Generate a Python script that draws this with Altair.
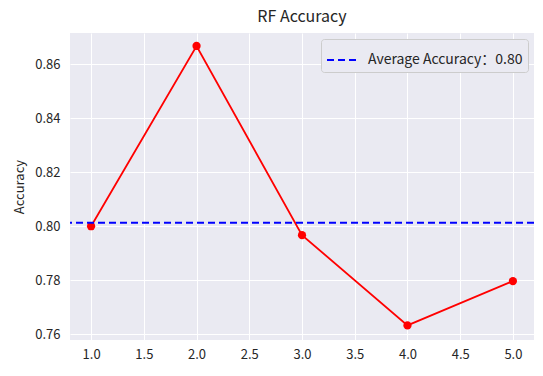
import altair as alt
import pandas as pd

folds = [1, 2, 3, 4, 5]
accuracy = [0.8000, 0.8667, 0.7967, 0.7633, 0.7797]
avg_value = sum(accuracy) / len(accuracy)
avg_label = ["Average Accuracy：0.80"]
x_ticks = [1.0, 1.5, 2.0, 2.5, 3.0, 3.5, 4.0, 4.5, 5.0]
y_ticks = [0.76, 0.78, 0.80, 0.82, 0.84, 0.86]

df = pd.DataFrame({"fold": folds, "acc": accuracy})
avg_df = pd.DataFrame({"label": avg_label, "avg": [avg_value]})

FONT = "Noto Sans CJK SC"

x_enc = alt.X("fold:Q", scale=alt.Scale(domain=[0.8, 5.2], nice=False, zero=False),
              axis=alt.Axis(values=x_ticks, format=".1f", title=None))
y_enc = alt.Y("acc:Q", scale=alt.Scale(domain=[0.7579, 0.8715], nice=False, zero=False),
              axis=alt.Axis(values=y_ticks, format=".2f", title="Accuracy"))

line = alt.Chart(df).mark_line(color="red", strokeWidth=1.8, clip=True).encode(x=x_enc, y=y_enc)
pts = alt.Chart(df).mark_circle(color="red", size=68, opacity=1).encode(x="fold:Q", y="acc:Q")

rule = alt.Chart(avg_df).mark_rule(strokeDash=[7, 4], strokeWidth=2).encode(
    y=alt.Y("avg:Q"),
    color=alt.Color("label:N", scale=alt.Scale(range=["blue"]),
                    legend=alt.Legend(title=None, orient="top-right", offset=6,
                                      symbolType="stroke", symbolSize=900,
                                      symbolStrokeWidth=2, symbolDash=[7, 4],
                                      labelFontSize=14, labelFont=FONT, labelColor="#262626",
                                      fillColor="#EAEAF2", strokeColor="#CCCCCC",
                                      cornerRadius=3, padding=5, labelOffset=10)),
)

chart = (line + pts + rule).properties(
    width=464, height=307,
    background="white",
    title=alt.TitleParams("RF Accuracy", fontSize=16, font=FONT, fontWeight="normal",
                          color="#262626", offset=8),
    autosize=alt.AutoSizeParams(type="none"),
    padding={"left": 70, "top": 33, "right": 9, "bottom": 36},
).configure_view(fill="#EAEAF2", stroke=None).configure_axis(
    domain=False, ticks=False, grid=True, gridColor="white", gridWidth=1,
    labelFont=FONT, labelFontSize=13, labelColor="#262626", labelPadding=10,
    titleFont=FONT, titleFontSize=13, titleFontWeight="normal", titleColor="#262626",
).configure_axisY(titlePadding=8).configure_axisX(labelPadding=8)

chart.save("out.html", embed_options={"renderer": "svg", "actions": False})
